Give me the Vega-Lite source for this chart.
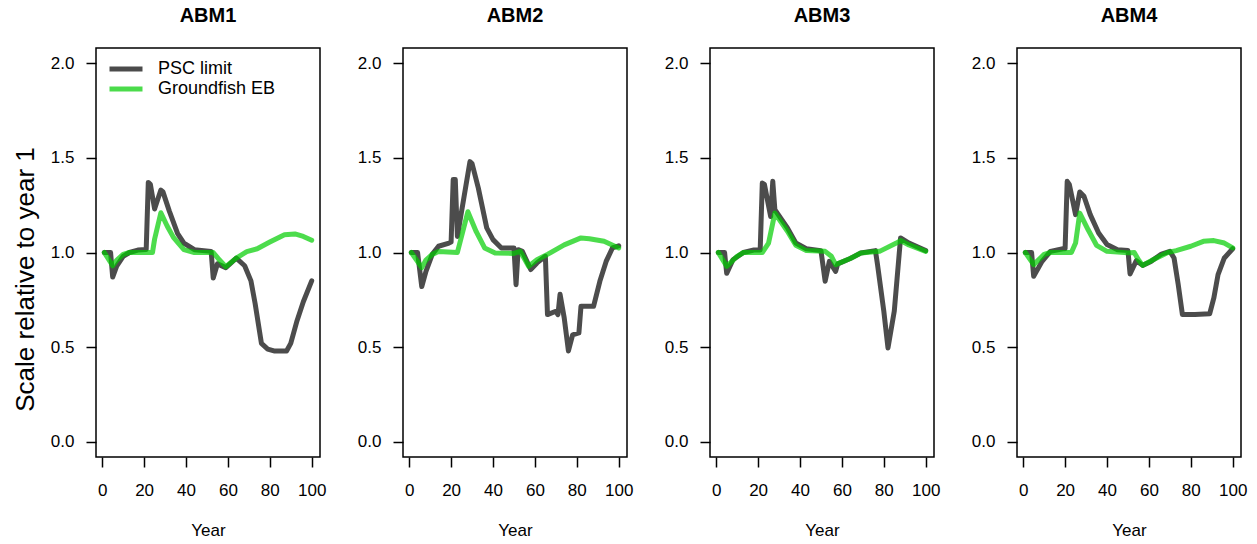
{
  "$schema": "https://vega.github.io/schema/vega-lite/v6.json",
  "padding": {"left": 11, "top": 5, "right": 5, "bottom": 5},
  "spacing": 83,
  "bounds": "flush",
  "resolve": {"legend": {"color": "independent"}},
  "config": {
    "font": "Liberation Sans",
    "view": {"stroke": "black", "strokeWidth": 1.5},
    "axis": {"grid": false, "domain": false, "tickColor": "black", "tickWidth": 1.5, "tickSize": 10, "labelColor": "black", "labelFontSize": 17, "labelFont": "Liberation Sans", "titleColor": "black", "titleFontWeight": "normal", "titleFont": "Liberation Sans", "titleFontSize": 17},
    "axisX": {"labelPadding": 15, "titlePadding": 24},
    "axisY": {"labelPadding": 12},
    "title": {"fontSize": 20, "fontWeight": "bold", "font": "Liberation Sans", "color": "black", "anchor": "middle", "baseline": "alphabetic", "offset": 22},
    "line": {"strokeWidth": 5, "opacity": 0.7, "strokeCap": "round", "strokeJoin": "round"}
  },
  "datasets": {
    "d": [
      {"model":"ABM1","series":"PSC limit","year":1,"value":1.0},
      {"model":"ABM1","series":"PSC limit","year":4,"value":1.0},
      {"model":"ABM1","series":"PSC limit","year":5,"value":0.87},
      {"model":"ABM1","series":"PSC limit","year":7,"value":0.93},
      {"model":"ABM1","series":"PSC limit","year":10,"value":0.98},
      {"model":"ABM1","series":"PSC limit","year":13,"value":1.0},
      {"model":"ABM1","series":"PSC limit","year":17,"value":1.013},
      {"model":"ABM1","series":"PSC limit","year":21,"value":1.016},
      {"model":"ABM1","series":"PSC limit","year":22,"value":1.37},
      {"model":"ABM1","series":"PSC limit","year":23,"value":1.36},
      {"model":"ABM1","series":"PSC limit","year":25,"value":1.23},
      {"model":"ABM1","series":"PSC limit","year":28,"value":1.33},
      {"model":"ABM1","series":"PSC limit","year":29,"value":1.32},
      {"model":"ABM1","series":"PSC limit","year":32,"value":1.22},
      {"model":"ABM1","series":"PSC limit","year":36,"value":1.10},
      {"model":"ABM1","series":"PSC limit","year":39,"value":1.05},
      {"model":"ABM1","series":"PSC limit","year":44,"value":1.015},
      {"model":"ABM1","series":"PSC limit","year":52,"value":1.006},
      {"model":"ABM1","series":"PSC limit","year":53,"value":0.865},
      {"model":"ABM1","series":"PSC limit","year":55,"value":0.94},
      {"model":"ABM1","series":"PSC limit","year":59,"value":0.92},
      {"model":"ABM1","series":"PSC limit","year":64,"value":0.97},
      {"model":"ABM1","series":"PSC limit","year":68,"value":0.93},
      {"model":"ABM1","series":"PSC limit","year":71,"value":0.85},
      {"model":"ABM1","series":"PSC limit","year":73,"value":0.73},
      {"model":"ABM1","series":"PSC limit","year":76,"value":0.52},
      {"model":"ABM1","series":"PSC limit","year":79,"value":0.49},
      {"model":"ABM1","series":"PSC limit","year":82,"value":0.48},
      {"model":"ABM1","series":"PSC limit","year":88,"value":0.48},
      {"model":"ABM1","series":"PSC limit","year":90,"value":0.52},
      {"model":"ABM1","series":"PSC limit","year":93,"value":0.64},
      {"model":"ABM1","series":"PSC limit","year":96,"value":0.74},
      {"model":"ABM1","series":"PSC limit","year":100,"value":0.85},
      {"model":"ABM1","series":"Groundfish EB","year":1,"value":1.0},
      {"model":"ABM1","series":"Groundfish EB","year":5,"value":0.93},
      {"model":"ABM1","series":"Groundfish EB","year":7,"value":0.96},
      {"model":"ABM1","series":"Groundfish EB","year":10,"value":0.99},
      {"model":"ABM1","series":"Groundfish EB","year":13,"value":1.0},
      {"model":"ABM1","series":"Groundfish EB","year":24,"value":1.0},
      {"model":"ABM1","series":"Groundfish EB","year":25,"value":1.07},
      {"model":"ABM1","series":"Groundfish EB","year":28,"value":1.21},
      {"model":"ABM1","series":"Groundfish EB","year":31,"value":1.14},
      {"model":"ABM1","series":"Groundfish EB","year":34,"value":1.08},
      {"model":"ABM1","series":"Groundfish EB","year":39,"value":1.015},
      {"model":"ABM1","series":"Groundfish EB","year":44,"value":1.0},
      {"model":"ABM1","series":"Groundfish EB","year":53,"value":1.0},
      {"model":"ABM1","series":"Groundfish EB","year":56,"value":0.96},
      {"model":"ABM1","series":"Groundfish EB","year":59,"value":0.925},
      {"model":"ABM1","series":"Groundfish EB","year":64,"value":0.97},
      {"model":"ABM1","series":"Groundfish EB","year":69,"value":1.005},
      {"model":"ABM1","series":"Groundfish EB","year":74,"value":1.02},
      {"model":"ABM1","series":"Groundfish EB","year":80,"value":1.055},
      {"model":"ABM1","series":"Groundfish EB","year":87,"value":1.094},
      {"model":"ABM1","series":"Groundfish EB","year":92,"value":1.098},
      {"model":"ABM1","series":"Groundfish EB","year":96,"value":1.085},
      {"model":"ABM1","series":"Groundfish EB","year":100,"value":1.065},

      {"model":"ABM2","series":"PSC limit","year":1,"value":1.0},
      {"model":"ABM2","series":"PSC limit","year":4,"value":1.0},
      {"model":"ABM2","series":"PSC limit","year":6,"value":0.82},
      {"model":"ABM2","series":"PSC limit","year":8,"value":0.90},
      {"model":"ABM2","series":"PSC limit","year":11,"value":0.99},
      {"model":"ABM2","series":"PSC limit","year":14,"value":1.033},
      {"model":"ABM2","series":"PSC limit","year":19,"value":1.05},
      {"model":"ABM2","series":"PSC limit","year":20,"value":1.055},
      {"model":"ABM2","series":"PSC limit","year":21,"value":1.385},
      {"model":"ABM2","series":"PSC limit","year":22,"value":1.385},
      {"model":"ABM2","series":"PSC limit","year":23,"value":1.085},
      {"model":"ABM2","series":"PSC limit","year":29,"value":1.48},
      {"model":"ABM2","series":"PSC limit","year":30,"value":1.47},
      {"model":"ABM2","series":"PSC limit","year":33,"value":1.34},
      {"model":"ABM2","series":"PSC limit","year":37,"value":1.13},
      {"model":"ABM2","series":"PSC limit","year":40,"value":1.068},
      {"model":"ABM2","series":"PSC limit","year":44,"value":1.024},
      {"model":"ABM2","series":"PSC limit","year":50,"value":1.024},
      {"model":"ABM2","series":"PSC limit","year":51,"value":0.83},
      {"model":"ABM2","series":"PSC limit","year":52,"value":1.015},
      {"model":"ABM2","series":"PSC limit","year":54,"value":1.006},
      {"model":"ABM2","series":"PSC limit","year":58,"value":0.91},
      {"model":"ABM2","series":"PSC limit","year":61,"value":0.945},
      {"model":"ABM2","series":"PSC limit","year":65,"value":0.98},
      {"model":"ABM2","series":"PSC limit","year":66,"value":0.672},
      {"model":"ABM2","series":"PSC limit","year":70,"value":0.69},
      {"model":"ABM2","series":"PSC limit","year":71,"value":0.672},
      {"model":"ABM2","series":"PSC limit","year":72,"value":0.78},
      {"model":"ABM2","series":"PSC limit","year":74,"value":0.654},
      {"model":"ABM2","series":"PSC limit","year":76,"value":0.48},
      {"model":"ABM2","series":"PSC limit","year":78,"value":0.565},
      {"model":"ABM2","series":"PSC limit","year":81,"value":0.575},
      {"model":"ABM2","series":"PSC limit","year":82,"value":0.716},
      {"model":"ABM2","series":"PSC limit","year":88,"value":0.716},
      {"model":"ABM2","series":"PSC limit","year":91,"value":0.848},
      {"model":"ABM2","series":"PSC limit","year":94,"value":0.953},
      {"model":"ABM2","series":"PSC limit","year":97,"value":1.024},
      {"model":"ABM2","series":"PSC limit","year":100,"value":1.035},
      {"model":"ABM2","series":"Groundfish EB","year":1,"value":1.0},
      {"model":"ABM2","series":"Groundfish EB","year":6,"value":0.92},
      {"model":"ABM2","series":"Groundfish EB","year":8,"value":0.96},
      {"model":"ABM2","series":"Groundfish EB","year":11,"value":0.99},
      {"model":"ABM2","series":"Groundfish EB","year":14,"value":1.005},
      {"model":"ABM2","series":"Groundfish EB","year":23,"value":1.0},
      {"model":"ABM2","series":"Groundfish EB","year":28,"value":1.215},
      {"model":"ABM2","series":"Groundfish EB","year":32,"value":1.11},
      {"model":"ABM2","series":"Groundfish EB","year":36,"value":1.024},
      {"model":"ABM2","series":"Groundfish EB","year":41,"value":0.997},
      {"model":"ABM2","series":"Groundfish EB","year":50,"value":0.995},
      {"model":"ABM2","series":"Groundfish EB","year":53,"value":1.006},
      {"model":"ABM2","series":"Groundfish EB","year":57,"value":0.927},
      {"model":"ABM2","series":"Groundfish EB","year":61,"value":0.962},
      {"model":"ABM2","series":"Groundfish EB","year":66,"value":0.99},
      {"model":"ABM2","series":"Groundfish EB","year":74,"value":1.04},
      {"model":"ABM2","series":"Groundfish EB","year":82,"value":1.077},
      {"model":"ABM2","series":"Groundfish EB","year":86,"value":1.073},
      {"model":"ABM2","series":"Groundfish EB","year":93,"value":1.059},
      {"model":"ABM2","series":"Groundfish EB","year":100,"value":1.024},

      {"model":"ABM3","series":"PSC limit","year":1,"value":1.0},
      {"model":"ABM3","series":"PSC limit","year":4,"value":1.0},
      {"model":"ABM3","series":"PSC limit","year":5,"value":0.89},
      {"model":"ABM3","series":"PSC limit","year":8,"value":0.962},
      {"model":"ABM3","series":"PSC limit","year":13,"value":1.0},
      {"model":"ABM3","series":"PSC limit","year":18,"value":1.013},
      {"model":"ABM3","series":"PSC limit","year":21,"value":1.013},
      {"model":"ABM3","series":"PSC limit","year":22,"value":1.367},
      {"model":"ABM3","series":"PSC limit","year":23,"value":1.36},
      {"model":"ABM3","series":"PSC limit","year":26,"value":1.19},
      {"model":"ABM3","series":"PSC limit","year":27,"value":1.376},
      {"model":"ABM3","series":"PSC limit","year":28,"value":1.226},
      {"model":"ABM3","series":"PSC limit","year":34,"value":1.13},
      {"model":"ABM3","series":"PSC limit","year":38,"value":1.05},
      {"model":"ABM3","series":"PSC limit","year":43,"value":1.02},
      {"model":"ABM3","series":"PSC limit","year":50,"value":1.01},
      {"model":"ABM3","series":"PSC limit","year":52,"value":0.848},
      {"model":"ABM3","series":"PSC limit","year":54,"value":0.953},
      {"model":"ABM3","series":"PSC limit","year":57,"value":0.9},
      {"model":"ABM3","series":"PSC limit","year":58,"value":0.94},
      {"model":"ABM3","series":"PSC limit","year":64,"value":0.968},
      {"model":"ABM3","series":"PSC limit","year":69,"value":0.997},
      {"model":"ABM3","series":"PSC limit","year":76,"value":1.01},
      {"model":"ABM3","series":"PSC limit","year":77,"value":0.936},
      {"model":"ABM3","series":"PSC limit","year":80,"value":0.69},
      {"model":"ABM3","series":"PSC limit","year":82,"value":0.496},
      {"model":"ABM3","series":"PSC limit","year":85,"value":0.69},
      {"model":"ABM3","series":"PSC limit","year":88,"value":1.077},
      {"model":"ABM3","series":"PSC limit","year":92,"value":1.05},
      {"model":"ABM3","series":"PSC limit","year":100,"value":1.01},
      {"model":"ABM3","series":"Groundfish EB","year":1,"value":1.0},
      {"model":"ABM3","series":"Groundfish EB","year":5,"value":0.927},
      {"model":"ABM3","series":"Groundfish EB","year":10,"value":0.98},
      {"model":"ABM3","series":"Groundfish EB","year":13,"value":1.0},
      {"model":"ABM3","series":"Groundfish EB","year":22,"value":1.0},
      {"model":"ABM3","series":"Groundfish EB","year":25,"value":1.05},
      {"model":"ABM3","series":"Groundfish EB","year":28,"value":1.208},
      {"model":"ABM3","series":"Groundfish EB","year":34,"value":1.112},
      {"model":"ABM3","series":"Groundfish EB","year":38,"value":1.038},
      {"model":"ABM3","series":"Groundfish EB","year":43,"value":1.01},
      {"model":"ABM3","series":"Groundfish EB","year":52,"value":1.006},
      {"model":"ABM3","series":"Groundfish EB","year":55,"value":0.98},
      {"model":"ABM3","series":"Groundfish EB","year":57,"value":0.936},
      {"model":"ABM3","series":"Groundfish EB","year":64,"value":0.968},
      {"model":"ABM3","series":"Groundfish EB","year":69,"value":0.997},
      {"model":"ABM3","series":"Groundfish EB","year":78,"value":1.006},
      {"model":"ABM3","series":"Groundfish EB","year":86,"value":1.05},
      {"model":"ABM3","series":"Groundfish EB","year":88,"value":1.063},
      {"model":"ABM3","series":"Groundfish EB","year":92,"value":1.04},
      {"model":"ABM3","series":"Groundfish EB","year":100,"value":1.006},

      {"model":"ABM4","series":"PSC limit","year":1,"value":1.0},
      {"model":"ABM4","series":"PSC limit","year":4,"value":1.0},
      {"model":"ABM4","series":"PSC limit","year":5,"value":0.874},
      {"model":"ABM4","series":"PSC limit","year":9,"value":0.953},
      {"model":"ABM4","series":"PSC limit","year":13,"value":1.006},
      {"model":"ABM4","series":"PSC limit","year":19,"value":1.02},
      {"model":"ABM4","series":"PSC limit","year":20,"value":1.02},
      {"model":"ABM4","series":"PSC limit","year":21,"value":1.376},
      {"model":"ABM4","series":"PSC limit","year":22,"value":1.36},
      {"model":"ABM4","series":"PSC limit","year":25,"value":1.2},
      {"model":"ABM4","series":"PSC limit","year":27,"value":1.32},
      {"model":"ABM4","series":"PSC limit","year":29,"value":1.297},
      {"model":"ABM4","series":"PSC limit","year":32,"value":1.2},
      {"model":"ABM4","series":"PSC limit","year":36,"value":1.103},
      {"model":"ABM4","series":"PSC limit","year":40,"value":1.042},
      {"model":"ABM4","series":"PSC limit","year":45,"value":1.015},
      {"model":"ABM4","series":"PSC limit","year":50,"value":1.01},
      {"model":"ABM4","series":"PSC limit","year":51,"value":0.887},
      {"model":"ABM4","series":"PSC limit","year":54,"value":0.957},
      {"model":"ABM4","series":"PSC limit","year":57,"value":0.932},
      {"model":"ABM4","series":"PSC limit","year":61,"value":0.953},
      {"model":"ABM4","series":"PSC limit","year":66,"value":0.992},
      {"model":"ABM4","series":"PSC limit","year":70,"value":1.006},
      {"model":"ABM4","series":"PSC limit","year":72,"value":0.971},
      {"model":"ABM4","series":"PSC limit","year":74,"value":0.83},
      {"model":"ABM4","series":"PSC limit","year":76,"value":0.672},
      {"model":"ABM4","series":"PSC limit","year":82,"value":0.672},
      {"model":"ABM4","series":"PSC limit","year":89,"value":0.676},
      {"model":"ABM4","series":"PSC limit","year":91,"value":0.76},
      {"model":"ABM4","series":"PSC limit","year":93,"value":0.883},
      {"model":"ABM4","series":"PSC limit","year":96,"value":0.971},
      {"model":"ABM4","series":"PSC limit","year":100,"value":1.02},
      {"model":"ABM4","series":"Groundfish EB","year":1,"value":1.0},
      {"model":"ABM4","series":"Groundfish EB","year":5,"value":0.936},
      {"model":"ABM4","series":"Groundfish EB","year":10,"value":0.99},
      {"model":"ABM4","series":"Groundfish EB","year":13,"value":1.0},
      {"model":"ABM4","series":"Groundfish EB","year":23,"value":1.0},
      {"model":"ABM4","series":"Groundfish EB","year":25,"value":1.05},
      {"model":"ABM4","series":"Groundfish EB","year":27,"value":1.208},
      {"model":"ABM4","series":"Groundfish EB","year":31,"value":1.12},
      {"model":"ABM4","series":"Groundfish EB","year":35,"value":1.038},
      {"model":"ABM4","series":"Groundfish EB","year":40,"value":1.006},
      {"model":"ABM4","series":"Groundfish EB","year":50,"value":0.998},
      {"model":"ABM4","series":"Groundfish EB","year":53,"value":1.0},
      {"model":"ABM4","series":"Groundfish EB","year":55,"value":0.962},
      {"model":"ABM4","series":"Groundfish EB","year":57,"value":0.932},
      {"model":"ABM4","series":"Groundfish EB","year":62,"value":0.962},
      {"model":"ABM4","series":"Groundfish EB","year":69,"value":1.0},
      {"model":"ABM4","series":"Groundfish EB","year":73,"value":1.01},
      {"model":"ABM4","series":"Groundfish EB","year":80,"value":1.033},
      {"model":"ABM4","series":"Groundfish EB","year":86,"value":1.059},
      {"model":"ABM4","series":"Groundfish EB","year":91,"value":1.063},
      {"model":"ABM4","series":"Groundfish EB","year":96,"value":1.05},
      {"model":"ABM4","series":"Groundfish EB","year":100,"value":1.024}
    ]
  },
  "data": {"name": "d"},
  "hconcat": [
    {
      "title": "ABM1",
      "width": 224, "height": 409,
      "transform": [{"filter": "datum.model === 'ABM1'"}],
      "encoding": {
        "x": {"field": "year", "type": "quantitative", "scale": {"domain": [-2.96, 103.96], "nice": false, "zero": false}, "axis": {"values": [0, 20, 40, 60, 80, 100], "title": "Year"}},
        "y": {"field": "value", "type": "quantitative", "scale": {"domain": [-0.08, 2.08], "nice": false, "zero": false}, "axis": {"values": [0, 0.5, 1, 1.5, 2], "format": ".1f", "title": "Scale relative to year 1", "titleFontSize": 26, "titleAngle": -90, "titleX": -71, "titleY": 231, "titleAlign": "center", "titleBaseline": "middle"}},
        "color": {"field": "series", "type": "nominal", "scale": {"domain": ["PSC limit", "Groundfish EB"], "range": ["black", "#00cd00"]},
          "legend": {"orient": "none", "legendX": 21, "legendY": 12, "title": null, "symbolType": "M-3.3,0H3.3", "symbolSize": 100, "symbolStrokeWidth": 5, "symbolOpacity": 0.7, "symbolFillColor": "transparent", "labelFontSize": 18, "labelColor": "black", "labelFont": "Liberation Sans", "labelOffset": 23, "rowPadding": 2, "padding": 0}}
      },
      "layer": [
        {"transform": [{"filter": "datum.series === 'PSC limit'"}], "mark": {"type": "line"}},
        {"transform": [{"filter": "datum.series === 'Groundfish EB'"}], "mark": {"type": "line"}}
      ]
    },
    {
      "title": "ABM2",
      "width": 224, "height": 409,
      "transform": [{"filter": "datum.model === 'ABM2'"}],
      "encoding": {
        "x": {"field": "year", "type": "quantitative", "scale": {"domain": [-2.96, 103.96], "nice": false, "zero": false}, "axis": {"values": [0, 20, 40, 60, 80, 100], "title": "Year"}},
        "y": {"field": "value", "type": "quantitative", "scale": {"domain": [-0.08, 2.08], "nice": false, "zero": false}, "axis": {"values": [0, 0.5, 1, 1.5, 2], "format": ".1f", "title": null}},
        "color": {"field": "series", "type": "nominal", "scale": {"domain": ["PSC limit", "Groundfish EB"], "range": ["black", "#00cd00"]}, "legend": null}
      },
      "layer": [
        {"transform": [{"filter": "datum.series === 'PSC limit'"}], "mark": {"type": "line"}},
        {"transform": [{"filter": "datum.series === 'Groundfish EB'"}], "mark": {"type": "line"}}
      ]
    },
    {
      "title": "ABM3",
      "width": 224, "height": 409,
      "transform": [{"filter": "datum.model === 'ABM3'"}],
      "encoding": {
        "x": {"field": "year", "type": "quantitative", "scale": {"domain": [-2.96, 103.96], "nice": false, "zero": false}, "axis": {"values": [0, 20, 40, 60, 80, 100], "title": "Year"}},
        "y": {"field": "value", "type": "quantitative", "scale": {"domain": [-0.08, 2.08], "nice": false, "zero": false}, "axis": {"values": [0, 0.5, 1, 1.5, 2], "format": ".1f", "title": null}},
        "color": {"field": "series", "type": "nominal", "scale": {"domain": ["PSC limit", "Groundfish EB"], "range": ["black", "#00cd00"]}, "legend": null}
      },
      "layer": [
        {"transform": [{"filter": "datum.series === 'PSC limit'"}], "mark": {"type": "line"}},
        {"transform": [{"filter": "datum.series === 'Groundfish EB'"}], "mark": {"type": "line"}}
      ]
    },
    {
      "title": "ABM4",
      "width": 224, "height": 409,
      "transform": [{"filter": "datum.model === 'ABM4'"}],
      "encoding": {
        "x": {"field": "year", "type": "quantitative", "scale": {"domain": [-2.96, 103.96], "nice": false, "zero": false}, "axis": {"values": [0, 20, 40, 60, 80, 100], "title": "Year"}},
        "y": {"field": "value", "type": "quantitative", "scale": {"domain": [-0.08, 2.08], "nice": false, "zero": false}, "axis": {"values": [0, 0.5, 1, 1.5, 2], "format": ".1f", "title": null}},
        "color": {"field": "series", "type": "nominal", "scale": {"domain": ["PSC limit", "Groundfish EB"], "range": ["black", "#00cd00"]}, "legend": null}
      },
      "layer": [
        {"transform": [{"filter": "datum.series === 'PSC limit'"}], "mark": {"type": "line"}},
        {"transform": [{"filter": "datum.series === 'Groundfish EB'"}], "mark": {"type": "line"}}
      ]
    }
  ]
}
